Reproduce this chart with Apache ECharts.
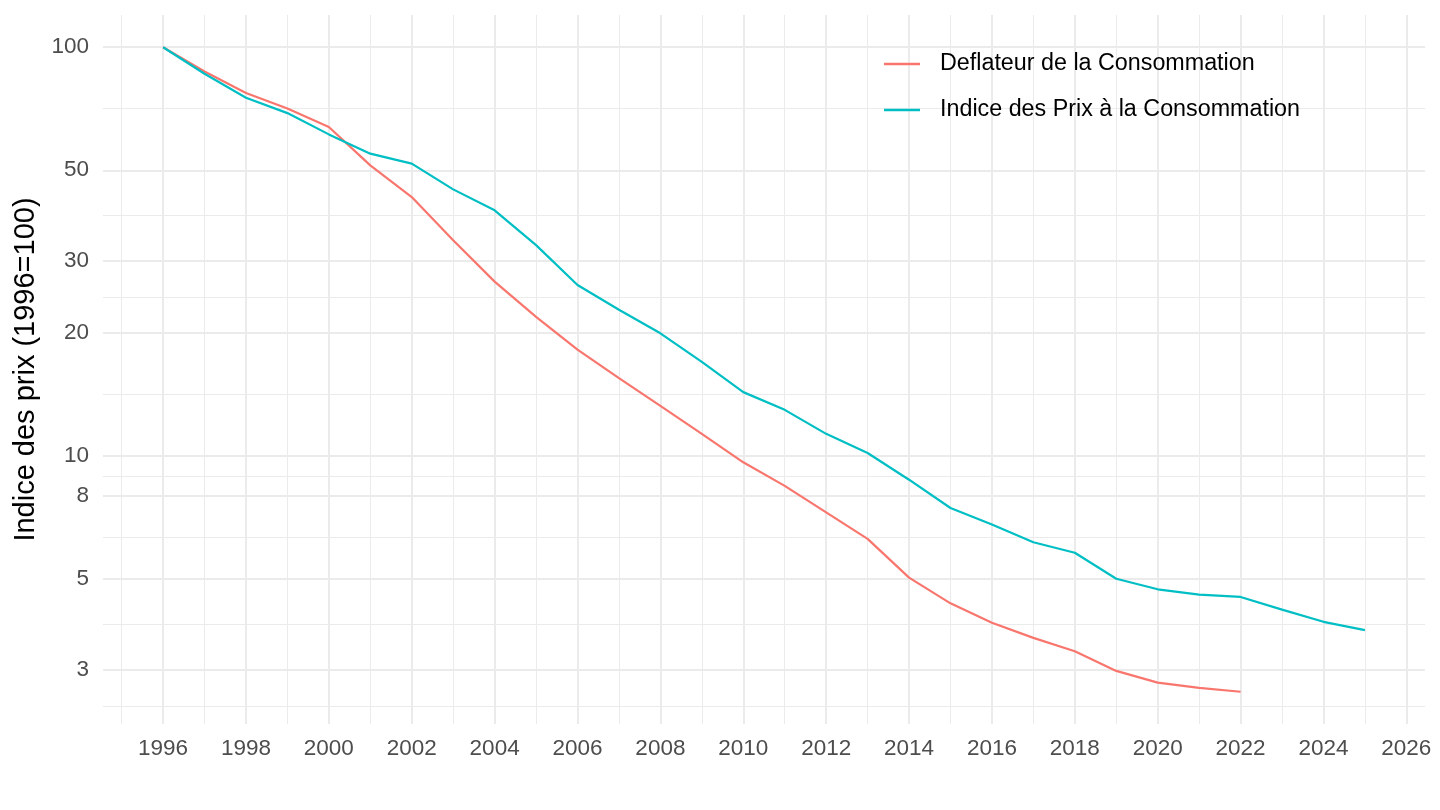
<!DOCTYPE html>
<html>
<head>
<meta charset="utf-8">
<script src="https://cdn.jsdelivr.net/npm/echarts@6/dist/echarts.min.js"></script>
<style>
html,body{margin:0;padding:0;background:#fff;}
#chart{width:1440px;height:810px;}
</style>
</head>
<body>
<div id="chart"></div>
<script>
// Data (1996 = 100)
const years = [1996,1997,1998,1999,2000,2001,2002,2003,2004,2005,2006,2007,2008,2009,2010,2011,2012,2013,2014,2015,2016,2017,2018,2019,2020,2021,2022,2023,2024,2025];
const deflateur = [100,87.2,77.3,70.8,63.8,51.4,43.0,33.7,26.7,21.9,18.2,15.5,13.26,11.33,9.65,8.45,7.28,6.27,5.04,4.36,3.91,3.59,3.33,2.98,2.79,2.71,2.65];
const ipc = [100,86.1,75.2,69.0,61.2,54.9,51.9,44.9,39.9,32.8,26.2,22.8,19.96,17.0,14.33,12.97,11.33,10.17,8.75,7.46,6.80,6.15,5.80,5.01,4.72,4.58,4.52,4.21,3.93,3.75];
const seriesNames = ['Deflateur de la Consommation','Indice des Prix à la Consommation'];
const yTicks = [3,5,8,10,20,30,50,100];
const yMinor = [2.449,3.873,6.325,8.944,14.14,24.49,38.73,70.71];
const xTicks = [1996,1998,2000,2002,2004,2006,2008,2010,2012,2014,2016,2018,2020,2022,2024,2026];
const xMinor = [1995,1997,1999,2001,2003,2005,2007,2009,2011,2013,2015,2017,2019,2021,2023,2025];

const pair = (vals) => vals.map((v, i) => [years[i], v]);

const gridColor = '#EBEBEB';
const labelColor = '#4D4D4D';
const fontFam = '"Liberation Sans", Arial, Helvetica, sans-serif';

const chart = echarts.init(document.getElementById('chart'), null, {renderer: 'canvas'});
chart.setOption({
  animation: false,
  backgroundColor: '#fff',
  textStyle: {fontFamily: fontFam},
  grid: {left: 103, right: 15, top: 15, bottom: 86, containLabel: false},
  legend: {
    orient: 'vertical',
    left: 884,
    top: 51,
    padding: 0,
    icon: 'rect',
    itemWidth: 36,
    itemHeight: 2.5,
    itemGap: 20,
    data: seriesNames,
    textStyle: {fontSize: 23.3, color: '#000', lineHeight: 26, padding: [0, 0, 0, 15], fontFamily: fontFam}
  },
  xAxis: [
    {
      type: 'value', min: 1994.55, max: 2026.45, position: 'bottom',
      axisLine: {show: false},
      axisTick: {show: false, customValues: xTicks},
      axisLabel: {customValues: xTicks, color: labelColor, fontSize: 22.5, margin: 13, formatter: v => String(v), fontFamily: fontFam},
      splitLine: {show: true, lineStyle: {color: gridColor, width: 2}}
    },
    {
      type: 'value', min: 1994.55, max: 2026.45, position: 'bottom',
      axisLine: {show: false},
      axisTick: {show: false, customValues: xMinor},
      axisLabel: {show: false, customValues: xMinor},
      splitLine: {show: true, lineStyle: {color: gridColor, width: 1}}
    }
  ],
  yAxis: [
    {
      type: 'log', logBase: 10, min: 2.21, max: 119.9,
      name: 'Indice des prix (1996=100)',
      nameLocation: 'middle', nameGap: 57, nameRotate: 90,
      nameTextStyle: {fontSize: 29, color: '#000', fontFamily: fontFam},
      axisLine: {show: false},
      axisTick: {show: false, customValues: yTicks},
      axisLabel: {customValues: yTicks, color: labelColor, fontSize: 22.5, margin: 14, padding: [3, 0, 0, 0], formatter: v => String(Math.round(v)), fontFamily: fontFam},
      splitLine: {show: true, lineStyle: {color: gridColor, width: 2}}
    },
    {
      type: 'log', logBase: 10, min: 2.21, max: 119.9, position: 'left',
      axisLine: {show: false},
      axisTick: {show: false, customValues: yMinor},
      axisLabel: {show: false, customValues: yMinor},
      splitLine: {show: true, lineStyle: {color: gridColor, width: 1}}
    }
  ],
  series: [
    {
      name: seriesNames[0], type: 'line', xAxisIndex: 0, yAxisIndex: 0,
      data: pair(deflateur), showSymbol: false, symbol: 'none',
      color: '#F8766D', lineStyle: {color: '#F8766D', width: 2.2}, z: 3
    },
    {
      name: seriesNames[1], type: 'line', xAxisIndex: 0, yAxisIndex: 0,
      data: pair(ipc), showSymbol: false, symbol: 'none',
      color: '#00BFC4', lineStyle: {color: '#00BFC4', width: 2.2}, z: 4
    }
  ]
});
</script>
</body>
</html>
